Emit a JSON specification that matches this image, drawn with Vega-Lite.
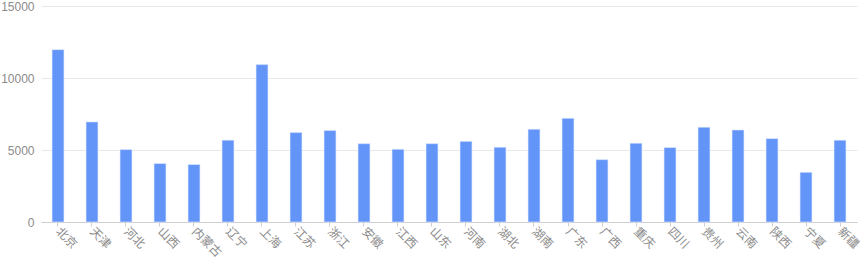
{
  "$schema": "https://vega.github.io/schema/vega-lite/v6.json",
  "autosize": {"type": "none"},
  "padding": {"left": 41, "top": 6, "right": 3, "bottom": 38},
  "width": 816,
  "height": 216,
  "background": "#ffffff",
  "data": {
    "values": [
      {"province": "北京", "value": 11970},
      {"province": "天津", "value": 6950},
      {"province": "河北", "value": 5030},
      {"province": "山西", "value": 4060},
      {"province": "内蒙古", "value": 3990},
      {"province": "辽宁", "value": 5680},
      {"province": "上海", "value": 10930},
      {"province": "江苏", "value": 6210},
      {"province": "浙江", "value": 6350},
      {"province": "安徽", "value": 5440},
      {"province": "江西", "value": 5050},
      {"province": "山东", "value": 5440},
      {"province": "河南", "value": 5600},
      {"province": "湖北", "value": 5190},
      {"province": "湖南", "value": 6440},
      {"province": "广东", "value": 7200},
      {"province": "广西", "value": 4330},
      {"province": "重庆", "value": 5470},
      {"province": "四川", "value": 5170},
      {"province": "贵州", "value": 6580},
      {"province": "云南", "value": 6390},
      {"province": "陕西", "value": 5790},
      {"province": "宁夏", "value": 3450},
      {"province": "新疆", "value": 5680}
    ]
  },
  "mark": {"type": "bar", "color": "#6395f9", "stroke": "#dbe6fd", "strokeWidth": 0.6},
  "encoding": {
    "x": {
      "field": "province",
      "type": "nominal",
      "sort": null,
      "scale": {"paddingInner": 0.65, "paddingOuter": 0.325},
      "axis": {
        "title": null,
        "labelAngle": 45,
        "labelAlign": "left",
        "labelBaseline": "middle",
        "labelFont": "Noto Sans CJK SC",
        "labelFontSize": 12,
        "labelColor": "#8c8c8c",
        "labelPadding": 3,
        "domainColor": "#cfcfcf",
        "tickColor": "#cfcfcf",
        "tickSize": 4,
        "grid": false
      }
    },
    "y": {
      "field": "value",
      "type": "quantitative",
      "scale": {"domain": [0, 15000], "nice": false},
      "axis": {
        "title": null,
        "values": [0, 5000, 10000, 15000],
        "format": "d",
        "labelFont": "Liberation Sans",
        "labelFontSize": 12,
        "labelColor": "#8c8c8c",
        "labelPadding": 7,
        "ticks": false,
        "domain": false,
        "grid": true,
        "gridColor": "#e8e8e8",
        "gridWidth": 1
      }
    }
  },
  "config": {"view": {"stroke": null}}
}
